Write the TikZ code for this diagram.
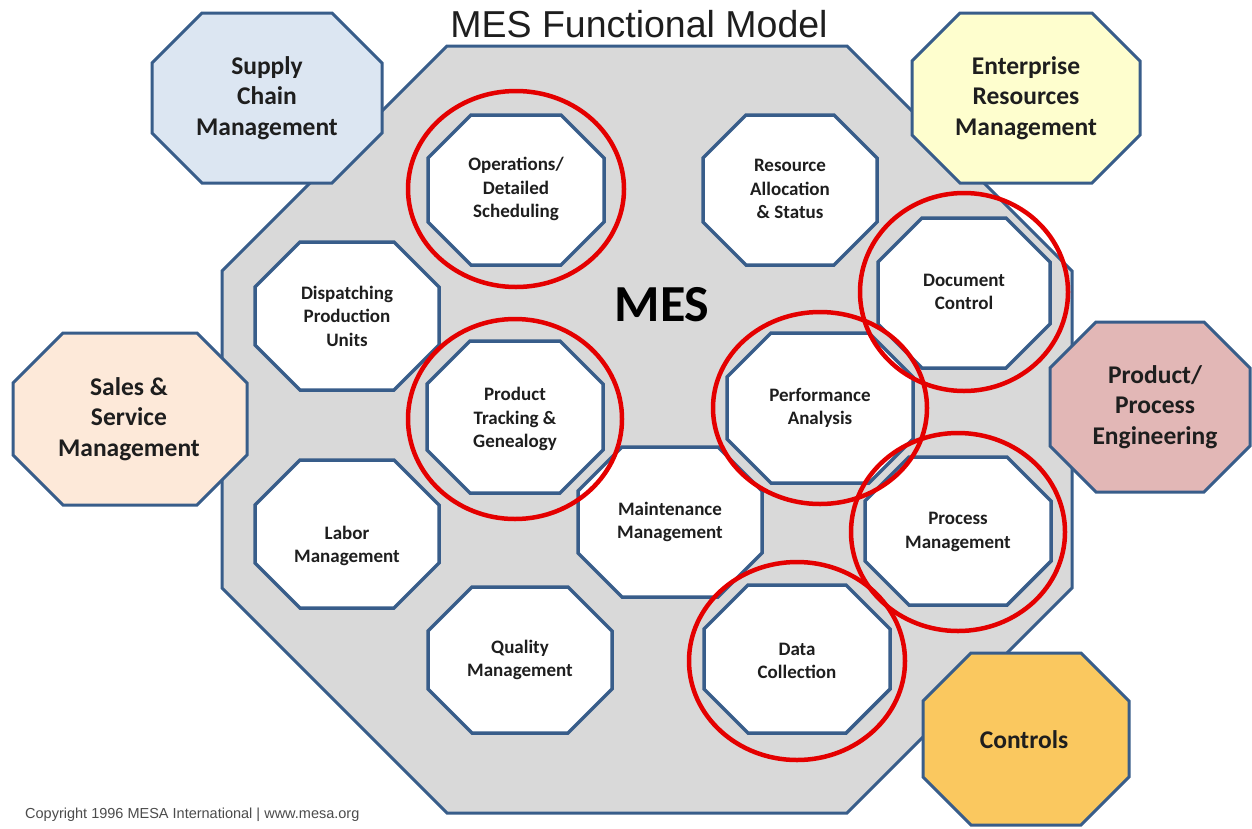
\documentclass[tikz,border=0pt]{standalone}
\usepackage{fontspec}
\setmainfont{Carlito}
\newfontfamily\arialf{Liberation Sans}
\definecolor{edgeblue}{RGB}{56,93,138}
\definecolor{mesgray}{RGB}{217,217,217}
\definecolor{supplyfill}{RGB}{220,230,242}
\definecolor{erpfill}{RGB}{254,254,206}
\definecolor{salesfill}{RGB}{253,233,217}
\definecolor{engfill}{RGB}{226,183,182}
\definecolor{ctrlfill}{RGB}{250,200,95}
\definecolor{ringred}{RGB}{228,0,0}
\definecolor{txt}{RGB}{30,30,30}
% octagon: [style]{cx}{cy}{half width}{half height}{cut}
\newcommand{\octa}[6][]{\draw[#1] ({#2-#4+#6},{#3-#5}) -- ({#2+#4-#6},{#3-#5}) -- ({#2+#4},{#3-#5+#6}) -- ({#2+#4},{#3+#5-#6}) -- ({#2+#4-#6},{#3+#5}) -- ({#2-#4+#6},{#3+#5}) -- ({#2-#4},{#3+#5-#6}) -- ({#2-#4},{#3-#5+#6}) -- cycle;}
\tikzset{
  mesregion/.style={draw=edgeblue, fill=mesgray, line width=3pt, line join=miter},
  outeroct/.style={draw=edgeblue, line width=3pt, line join=miter},
  inneroct/.style={draw=edgeblue, fill=white, line width=3.5pt, line join=miter},
  outertext/.style={font=\bfseries\fontsize{25.5}{30.5}\selectfont, align=center, text=txt, inner sep=0pt},
  innertext/.style={font=\bfseries\fontsize{19}{23.5}\selectfont, align=center, text=txt, inner sep=0pt},
  ring/.style={draw=ringred, line width=4.5pt},
}
\begin{document}
\begin{tikzpicture}[x=1pt,y=-1pt]
\useasboundingbox[fill=white] (0,0) rectangle (1252,828);
% MES region
\octa[mesregion]{647}{429.5}{425}{383.5}{225}
% outer functions
\octa[outeroct, fill=supplyfill]{267}{98}{115}{85}{50}
\octa[outeroct, fill=erpfill]{1026}{98}{114}{85}{48}
\octa[outeroct, fill=salesfill]{130}{419}{117}{86}{50}
\octa[outeroct, fill=engfill]{1150}{407}{100}{85}{46}
\octa[outeroct, fill=ctrlfill]{1026}{739}{103}{86}{48}
% inner functions
\octa[inneroct]{516}{190}{88}{75}{43}
\octa[inneroct]{790}{190}{87}{75}{43}
\octa[inneroct]{347}{316}{92}{74}{45}
\octa[inneroct]{964}{293}{86}{75}{44}
\octa[inneroct]{515}{417}{88}{76}{43}
\octa[inneroct]{820}{408}{93}{75}{44}
\octa[inneroct]{670}{522}{92}{75}{44}
\octa[inneroct]{347}{534}{92}{74}{45}
\octa[inneroct]{958}{531}{93}{74}{44}
\octa[inneroct]{520}{660}{92}{73}{44}
\octa[inneroct]{797}{659}{93}{74}{44}
% texts
\node[font=\arialf\fontsize{37.5}{40}\selectfont, anchor=base, text=txt] (title) at (639,37) {MES Functional Model};
\node[font=\bfseries\fontsize{52}{54}\selectfont, text=black, inner sep=0pt] (mes) at (662,305) {MES};
\node[outertext] (supply) at (267,98) {Supply\\Chain\\Management};
\node[outertext] (erp) at (1026,98) {Enterprise\\Resources\\Management};
\node[outertext] (sales) at (129,419) {Sales \&\\Service\\Management};
\node[outertext] (eng) at (1155,407) {Product/\\Process\\Engineering};
\node[outertext] (ctrl) at (1024,740) {Controls};
\node[innertext] (ops) at (516,189) {Operations/\\Detailed\\Scheduling};
\node[innertext] (res) at (790,189) {Resource\\Allocation\\\& Status};
\node[innertext] (disp) at (347,316) {Dispatching\\Production\\Units};
\node[innertext] (doc) at (964,292) {Document\\Control};
\node[innertext] (track) at (515,419) {Product\\Tracking \&\\Genealogy};
\node[innertext] (perf) at (820,408) {Performance\\Analysis};
\node[innertext] (maint) at (670,522) {Maintenance\\Management};
\node[innertext] (labor) at (347,546) {Labor\\Management};
\node[innertext] (proc) at (958,532) {Process\\Management};
\node[innertext] (qual) at (520,660) {Quality\\Management};
\node[innertext] (data) at (797,661) {Data\\Collection};
\node[anchor=base west, font=\arialf\fontsize{14.5}{16}\selectfont, text=black!70, inner sep=0pt] (copy) at (25,818) {Copyright 1996 MESA International | www.mesa.org};
% red rings
\draw[ring] (ops.center) ellipse [x radius=108pt, y radius=98pt];
\draw[ring] (track.center) ellipse [x radius=107pt, y radius=100pt];
\draw[ring] (doc.center) ellipse [x radius=104pt, y radius=99pt];
\draw[ring] (perf.center) ellipse [x radius=107pt, y radius=96pt];
\draw[ring] (proc.center) ellipse [x radius=107pt, y radius=99pt];
\draw[ring] (data.center) ellipse [x radius=108pt, y radius=99pt];
\end{tikzpicture}
\end{document}
